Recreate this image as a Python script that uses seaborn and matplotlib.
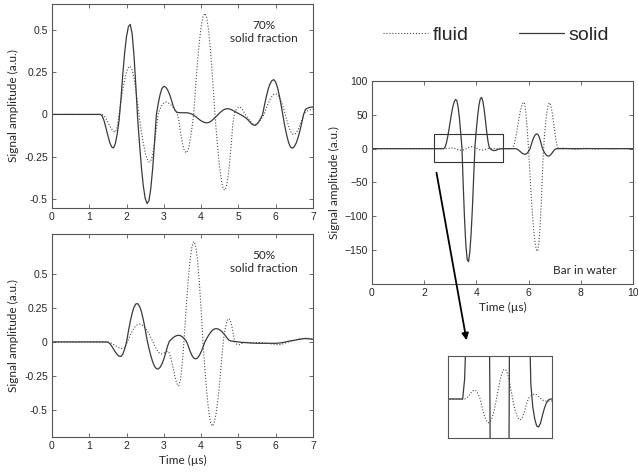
import numpy as np
import matplotlib
matplotlib.use("Agg")
import matplotlib.pyplot as plt
from matplotlib.patches import Rectangle, FancyArrowPatch
import seaborn as sns

# time grids (us): flat start, then 0.05 us samples over the signal
time_left = np.concatenate([[0.0], np.round(np.arange(1.2, 7.001, 0.05), 2)])
time_bar = np.concatenate([[0.0], np.round(np.arange(2.6, 7.401, 0.05), 2),
                           np.round(np.arange(7.5, 10.001, 0.1), 1)])

# 70% solid fraction
solid_70 = [0.0,
            0, 0, 0, -0.01, -0.04, -0.082, -0.127, -0.167, -0.193, -0.199,
            -0.173, -0.115, -0.035, 0.093, 0.241, 0.368, 0.464, 0.521, 0.534, 0.478,
            0.348, 0.166, -0.031, -0.181, -0.317, -0.425, -0.498, -0.529, -0.512, -0.44,
            -0.323, -0.17, 0.0, 0.064, 0.118, 0.154, 0.167, 0.162, 0.146, 0.121,
            0.088, 0.051, 0.024, 0.013, 0.011, 0.01, 0.01, 0.01, 0.01, 0.009,
            0.006, 0.002, -0.004, -0.012, -0.021, -0.03, -0.038, -0.044, -0.048, -0.05,
            -0.048, -0.043, -0.034, -0.024, -0.013, -0.002, 0.009, 0.019, 0.027, 0.032,
            0.034, 0.033, 0.029, 0.024, 0.018, 0.012, 0.006, 0.0, -0.006, -0.013,
            -0.021, -0.031, -0.042, -0.055, -0.063, -0.065, -0.057, -0.043, -0.023, 0.0,
            0.055, 0.106, 0.15, 0.182, 0.201, 0.206, 0.192, 0.159, 0.11, 0.051,
            -0.013, -0.074, -0.127, -0.169, -0.194, -0.2, -0.191, -0.17, -0.138, -0.097,
            -0.05, 0.0, 0.03, 0.037, 0.041, 0.043, 0.044]
fluid_70 = [0.0,
            0, 0, 0, -0.001, -0.009, -0.025, -0.046, -0.068, -0.087, -0.1,
            -0.105, -0.074, 0.0, 0.077, 0.147, 0.208, 0.253, 0.279, 0.285, 0.264,
            0.215, 0.143, 0.056, -0.031, -0.105, -0.172, -0.226, -0.264, -0.282, -0.277,
            -0.239, -0.17, -0.08, 0.006, 0.033, 0.056, 0.069, 0.073, 0.07, 0.064,
            0.054, 0.041, 0.026, 0.01, -0.032, -0.109, -0.172, -0.214, -0.228, -0.211,
            -0.161, -0.087, 0.0, 0.155, 0.3, 0.424, 0.52, 0.58, 0.6, 0.575,
            0.501, 0.386, 0.238, 0.07, -0.081, -0.21, -0.32, -0.4, -0.445, -0.448,
            -0.405, -0.32, -0.2, -0.059, 0.013, 0.031, 0.042, 0.044, 0.033, 0.014,
            -0.006, -0.02, -0.035, -0.048, -0.057, -0.06, -0.055, -0.045, -0.031, -0.014,
            0.006, 0.037, 0.065, 0.089, 0.107, 0.119, 0.123, 0.117, 0.101, 0.076,
            0.044, 0.007, -0.034, -0.072, -0.101, -0.117, -0.119, -0.11, -0.092, -0.066,
            -0.034, 0.0, 0.013, 0.021, 0.026, 0.029, 0.03]

# 50% solid fraction
solid_50 = [0.0,
            0, 0, 0, 0, 0, 0, -0.002, -0.012, -0.03, -0.052,
            -0.074, -0.093, -0.105, -0.107, -0.09, -0.051, 0.0, 0.079, 0.151, 0.212,
            0.256, 0.28, 0.282, 0.262, 0.222, 0.164, 0.094, 0.016, -0.046, -0.1,
            -0.146, -0.179, -0.197, -0.199, -0.187, -0.162, -0.126, -0.081, -0.031, 0.006,
            0.019, 0.032, 0.041, 0.047, 0.049, 0.046, 0.037, 0.023, 0.007, -0.025,
            -0.065, -0.097, -0.118, -0.125, -0.119, -0.101, -0.073, -0.039, 0.0, 0.025,
            0.049, 0.069, 0.085, 0.095, 0.098, 0.096, 0.089, 0.078, 0.064, 0.047,
            0.028, 0.012, 0.007, 0.005, 0.004, 0.002, 0.0, -0.002, -0.003, -0.004,
            -0.005, -0.006, -0.007, -0.008, -0.008, -0.009, -0.01, -0.01, -0.01, -0.01,
            -0.01, -0.01, -0.01, -0.01, -0.01, -0.01, -0.01, -0.009, -0.008, -0.006,
            -0.004, -0.001, 0.002, 0.005, 0.008, 0.01, 0.012, 0.015, 0.018, 0.02,
            0.022, 0.024, 0.025, 0.024, 0.023, 0.021, 0.02]
fluid_50 = [0.0,
            0, 0, 0, 0, 0, 0, -0.001, -0.004, -0.01, -0.018,
            -0.027, -0.035, -0.043, -0.048, -0.05, -0.042, -0.014, 0.019, 0.051, 0.079,
            0.102, 0.119, 0.129, 0.132, 0.128, 0.118, 0.103, 0.083, 0.059, 0.033,
            0.006, -0.025, -0.053, -0.074, -0.086, -0.088, -0.083, -0.073, -0.068, -0.083,
            -0.13, -0.195, -0.26, -0.307, -0.324, -0.274, -0.141, 0.043, 0.253, 0.442,
            0.593, 0.696, 0.739, 0.715, 0.615, 0.451, 0.238, 0.0, -0.192, -0.365,
            -0.502, -0.59, -0.62, -0.598, -0.531, -0.427, -0.29, -0.133, 0.018, 0.102,
            0.159, 0.173, 0.145, 0.082, 0.0, -0.015, -0.022, -0.018, -0.01, -0.005,
            -0.003, -0.004, -0.005, -0.006, -0.007, -0.006, -0.005, -0.005, -0.005, -0.006,
            -0.007, -0.009, -0.011, -0.013, -0.015, -0.017, -0.019, -0.02, -0.02, -0.018,
            -0.014, -0.009, -0.004, 0.001, 0.005, 0.009, 0.012, 0.016, 0.02, 0.023,
            0.025, 0.026, 0.027, 0.026, 0.025, 0.022, 0.02]

# bar in water
solid_bar = [0.0,
             0, 0, 0, 0, 2, 7.9, 17, 28, 40, 52,
             62, 69, 72.6, 71.5, 62, 46, 24, 0, -56, -106,
             -143, -164, -167, -153, -126, -87, -40, 4.8, 28, 48,
             64, 73.6, 75.8, 70, 58, 41.5, 24, 10, 1.5, -0.8,
             -2, -2.7, -2.8, -2.4, -1.6, -0.9, -0.4, -0.1, 0, 0,
             0, 0, 0, 0, 0, 0, 0, 0, 0, -0.5,
             -1.6, -3.2, -4.9, -6.5, -7.7, -8.3, -8.1, -6.6, -4, -0.7,
             5.3, 11.4, 16.5, 20, 21.8, 21.4, 18.2, 12.4, 4.9, -1.5,
             -5, -8, -10.1, -11, -10.6, -9, -6.6, -3.9, -1.6, -0.2,
             0, 0, 0, 0, 0, 0, 0,
             0, 0, 0, 0, 0, 0, 0, 0, 0, 0,
             0, 0, 0, 0, 0, 0, 0, 0, 0, 0,
             0, 0, 0, 0, 0, 0]
fluid_bar = [0.0,
             0, 0, 0, 0, 0, 0.08, 0.29, 0.56, 0.79, 0.9,
             0.81, 0.48, 0.0, -0.84, -1.57, -2.1, -2.38, -2.33, -1.94, -1.25,
             -0.37, 0.67, 1.69, 2.48, 2.93, 2.96, 2.56, 1.76, 0.7, -0.35,
             -1.15, -1.76, -2.07, -2.04, -1.7, -1.1, -0.33, 0.12, 0.3, 0.45,
             0.5, 0.42, 0.25, 0.05, -0.1, -0.2, -0.2, -0.2, -0.2, -0.2,
             -0.2, -0.2, -0.2, -0.2, -0.2, 0.0, 1.3, 6.3, 14.6, 25,
             37, 48, 58, 65, 68.7, 66.7, 53, 29, 0.0, -34.8,
             -67.8, -97, -121, -139, -149.4, -151.7, -139, -111, -70, -20.7,
             13.8, 35.3, 52.8, 64, 68, 64.6, 55, 41.6, 26.4, 12.8,
             3.4, 0.0, 0.3, 0.6, 0.8, 0.9, 0.8,
             0.3, -0.3, -0.8, -1.0, -0.7, -0.2, 0.3, 0.6, 0.5, 0.1,
             -0.3, -0.5, -0.3, 0.1, 0.3, 0.3, 0.0, -0.3, -0.3, 0.0,
             0.2, 0.2, 0.0, -0.2, -0.1, 0.0]

sns.set_style("ticks")
plt.rcParams['font.family'] = ['Liberation Sans', 'DejaVu Sans']
label_font = ['Lato', 'DejaVu Sans']

SOLID_C = '#3a3a3a'
FLUID_C = '#4a4a4a'

fig = plt.figure(figsize=(6.38, 4.75), dpi=100)
ax1 = fig.add_axes([0.0815, 0.5621, 0.409, 0.4295])
ax2 = fig.add_axes([0.0815, 0.0800, 0.409, 0.4274])
ax3 = fig.add_axes([0.583, 0.4021, 0.409, 0.4274])
ax4 = fig.add_axes([0.702, 0.0779, 0.163, 0.1726])


def draw(ax, t, fluid, solid):
    sns.lineplot(x=t, y=fluid, ax=ax, color=FLUID_C, lw=0.8, linestyle=':', label='fluid', legend=False)
    sns.lineplot(x=t, y=solid, ax=ax, color=SOLID_C, lw=0.9, label='solid', legend=False)


def style(ax):
    ax.tick_params(direction='in', top=True, right=True, length=3, width=0.6,
                   labelsize=7.5, pad=3, color='#555555')
    for s in ax.spines.values():
        s.set_color('#555555')
        s.set_linewidth(0.8)


draw(ax1, time_left, fluid_70, solid_70)
draw(ax2, time_left, fluid_50, solid_50)
draw(ax3, time_bar, fluid_bar, solid_bar)
draw(ax4, time_bar, fluid_bar, solid_bar)

for ax in (ax1, ax2):
    style(ax)
    ax.set_xlim(0, 7)
    ax.set_xticks(range(8))
    ax.set_ylabel('Signal amplitude (a.u.)', family=label_font, fontsize=8.5, labelpad=4)

ax1.set_ylim(-0.555, 0.655)
ax1.set_yticks([-0.5, -0.25, 0, 0.25, 0.5])
ax1.set_yticklabels(['-0.5', '-0.25', '0', '0.25', '0.5'])
ax1.set_xlabel('')
ax1.text(0.812, 0.863, '70%\nsolid fraction', transform=ax1.transAxes, ha='center', va='center',
         family=label_font, fontsize=8.5, linespacing=1.3)

ax2.set_ylim(-0.7, 0.795)
ax2.set_yticks([-0.5, -0.25, 0, 0.25, 0.5])
ax2.set_yticklabels(['-0.5', '-0.25', '0', '0.25', '0.5'])
ax2.set_xlabel('Time (µs)', family=label_font, fontsize=8.5, labelpad=3)
ax2.text(0.812, 0.862, '50%\nsolid fraction', transform=ax2.transAxes, ha='center', va='center',
         family=label_font, fontsize=8.5, linespacing=1.3)

style(ax3)
ax3.set_xlim(0, 10)
ax3.set_xticks(range(0, 11, 2))
ax3.set_ylim(-200, 100)
ax3.set_yticks([-150, -100, -50, 0, 50, 100])
ax3.set_xlabel('Time (µs)', family=label_font, fontsize=8.5, labelpad=3)
ax3.set_ylabel('Signal amplitude (a.u.)', family=label_font, fontsize=8.5, labelpad=3)
ax3.text(0.816, 0.066, 'Bar in water', transform=ax3.transAxes, ha='center', va='center',
         family=label_font, fontsize=8.5)
ax3.add_patch(Rectangle((2.37, -19), 2.67, 41, fill=False, ec='#333333', lw=0.8))

# zoomed view of the boxed region
ax4.set_xlim(2.37, 5.04)
ax4.set_ylim(-3.9, 4.3)
ax4.set_xticks([])
ax4.set_yticks([])
ax4.set_xlabel('')
ax4.set_ylabel('')
for s in ax4.spines.values():
    s.set_color('#555555')
    s.set_linewidth(0.8)

fig.add_artist(FancyArrowPatch((0.6834, 0.6421), (0.732, 0.2779), transform=fig.transFigure,
                               arrowstyle='-|>', mutation_scale=10, lw=1.3, color='black'))

handles, labels = ax3.get_legend_handles_labels()
fig.legend(handles, labels, loc='center left', bbox_to_anchor=(0.600, 0.926), ncol=2,
           frameon=False, fontsize=14, handlelength=2.3, handletextpad=0.25,
           columnspacing=2.6, borderpad=0, borderaxespad=0)

fig.savefig('out.png', dpi=100)
